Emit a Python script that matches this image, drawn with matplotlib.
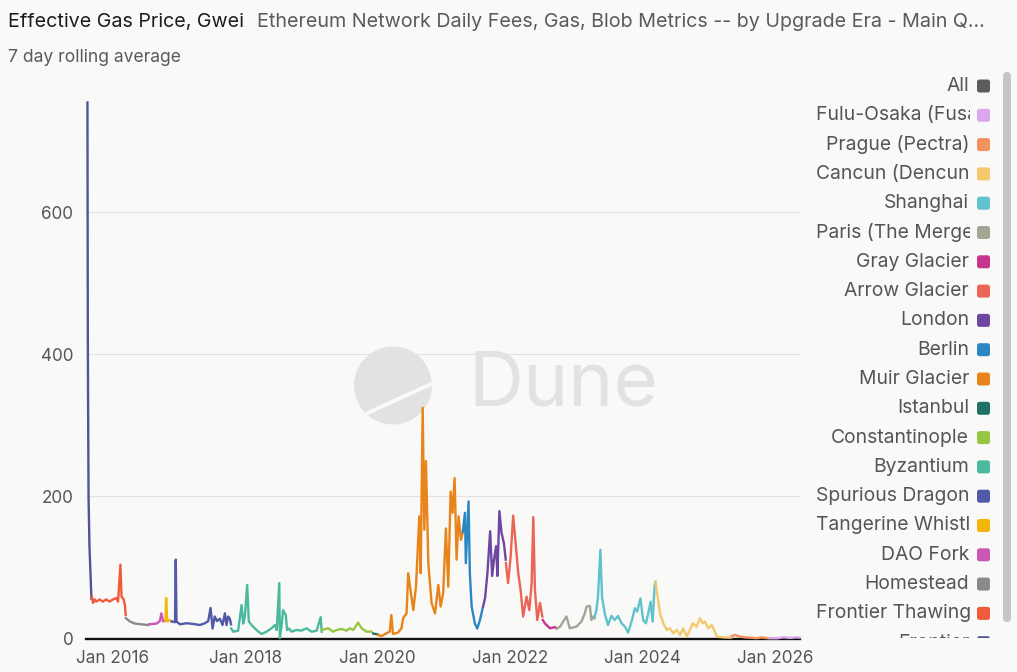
import matplotlib
matplotlib.use('Agg')
import matplotlib.pyplot as plt
import matplotlib.patches as mpatches
from matplotlib.transforms import Bbox
import pandas as pd

plt.rcParams['font.family'] = ['Inter', 'DejaVu Sans']

# ---------------- data (7 day rolling avg effective gas price, gwei) ----------------
frontier_dates = ['2015-08-15', '2015-08-17', '2015-08-18', '2015-08-21', '2015-08-26', '2015-09-06']
frontier_vals = [755, 430, 360, 200, 130, 56]

thawing_dates = ['2015-09-08', '2015-09-15', '2015-09-24', '2015-10-03', '2015-10-21', '2015-11-08',
                 '2015-11-26', '2015-12-15', '2016-01-03', '2016-01-21', '2016-01-31', '2016-02-13',
                 '2016-02-19', '2016-03-02', '2016-03-09', '2016-03-13']
thawing_vals = [59, 50, 55, 52, 55, 52, 55, 52, 55, 57, 52, 104, 59, 55, 46, 33]

homestead_dates = ['2016-03-14', '2016-04-05', '2016-05-03', '2016-06-08', '2016-07-15']
homestead_vals = [28.5, 24, 21, 20, 19]

dao_dates = ['2016-07-20', '2016-08-30', '2016-09-17', '2016-09-26', '2016-10-05', '2016-10-17']
dao_vals = [20, 21, 24.5, 35.5, 24, 25]

tangerine_dates = ['2016-10-18', '2016-10-22', '2016-10-28', '2016-11-08', '2016-11-21']
tangerine_vals = [25, 57, 24, 26, 24]

spurious_dates = ['2016-11-22', '2016-12-10', '2016-12-14', '2016-12-18', '2017-01-06', '2017-02-12',
                  '2017-03-20', '2017-04-26', '2017-05-24', '2017-06-11', '2017-06-24', '2017-07-05',
                  '2017-07-17', '2017-07-30', '2017-08-14', '2017-08-29', '2017-09-11', '2017-09-20',
                  '2017-09-29', '2017-10-08', '2017-10-15']
spurious_vals = [24, 23, 111, 24, 20, 21.5, 20.5, 19, 21.5, 24.5, 43, 14, 31, 24.5, 28, 19, 35.5, 19, 31, 28, 20]

byzantium_dates = ['2017-10-16', '2017-10-27', '2017-11-23', '2017-12-12', '2017-12-21', '2017-12-30',
                   '2018-01-12', '2018-01-21', '2018-02-05', '2018-03-04', '2018-04-01', '2018-04-29',
                   '2018-05-26', '2018-06-14', '2018-06-24', '2018-07-08', '2018-07-11', '2018-07-20',
                   '2018-07-29', '2018-08-13', '2018-08-20', '2018-08-31', '2018-09-13', '2018-10-11',
                   '2018-11-07', '2018-12-05', '2019-01-02', '2019-01-30', '2019-02-21', '2019-02-27']
byzantium_vals = [14, 9.6, 11, 47, 21, 31, 75.5, 24, 19, 12, 6.4, 9.6, 14.4, 19, 12, 78, 0.5, 16.7,
                  40, 33, 12, 14, 9.6, 12, 11, 14.4, 9.6, 11, 30, 9.6]

constantinople_dates = ['2019-02-28', '2019-04-04', '2019-05-01', '2019-05-20', '2019-06-17', '2019-07-14',
                        '2019-08-01', '2019-08-20', '2019-09-16', '2019-10-05', '2019-11-01', '2019-11-29']
constantinople_vals = [12, 14.4, 9.6, 12, 13.4, 11, 14.4, 12, 22.4, 14.4, 9.6, 9.6]

istanbul_dates = ['2019-12-08', '2019-12-20', '2020-01-01']
istanbul_vals = [7, 6.4, 6]

muir_dates = ['2020-01-02', '2020-01-23', '2020-02-19', '2020-03-08', '2020-03-17', '2020-03-26',
              '2020-04-23', '2020-05-12', '2020-05-21', '2020-06-09', '2020-06-18', '2020-07-16',
              '2020-07-31', '2020-08-18', '2020-08-26', '2020-09-06', '2020-09-15', '2020-09-24',
              '2020-10-07', '2020-10-25', '2020-11-13', '2020-12-01', '2020-12-14', '2020-12-28',
              '2021-01-12', '2021-01-25', '2021-02-07', '2021-02-18', '2021-03-01', '2021-03-12',
              '2021-03-23', '2021-04-05', '2021-04-14']
muir_vals = [5, 3.5, 7.3, 9.6, 33, 6.4, 8.3, 14.4, 28.5, 35.5, 92, 40, 73, 172, 92, 325, 153, 250,
             106, 50, 35.5, 75.5, 45, 64, 155, 73, 207, 177, 226, 111, 172, 139, 148.5]

berlin_dates = ['2021-04-15', '2021-04-27', '2021-05-02', '2021-05-17', '2021-05-24', '2021-06-03',
                '2021-06-21', '2021-07-04', '2021-07-19', '2021-08-03']
berlin_vals = [150, 177, 106, 193, 92, 45, 21, 14, 26, 43]

london_dates = ['2021-08-05', '2021-08-16', '2021-08-29', '2021-09-13', '2021-09-24', '2021-10-04',
                '2021-10-16', '2021-10-23', '2021-11-03', '2021-11-15', '2021-11-28', '2021-12-08']
london_vals = [45, 57, 92, 151, 88, 111, 130, 88, 179.5, 148.5, 134, 111]

arrow_dates = ['2021-12-09', '2021-12-21', '2022-01-04', '2022-01-18', '2022-02-02', '2022-02-15',
               '2022-02-28', '2022-03-14', '2022-04-02', '2022-04-17', '2022-04-30', '2022-05-09',
               '2022-05-18', '2022-05-31', '2022-06-15', '2022-06-28']
arrow_vals = [106, 78, 115.5, 173, 130, 92, 68.6, 31, 59, 40, 78, 171, 68.6, 26, 50, 31]

gray_dates = ['2022-06-30', '2022-07-13', '2022-08-09', '2022-09-06', '2022-09-14']
gray_vals = [26, 21, 14.4, 16, 14]

paris_dates = ['2022-09-15', '2022-10-04', '2022-10-21', '2022-11-08', '2022-11-26', '2023-01-02',
               '2023-01-30', '2023-02-17', '2023-02-27', '2023-03-17', '2023-03-26', '2023-04-04',
               '2023-04-11']
paris_vals = [14, 16.7, 24, 31, 14.4, 16.7, 24, 35.5, 45, 46, 26, 30.8, 28.5]

shanghai_dates = ['2023-04-12', '2023-04-22', '2023-05-01', '2023-05-14', '2023-05-23', '2023-06-07',
                  '2023-06-25', '2023-07-14', '2023-08-01', '2023-08-19', '2023-09-08', '2023-09-26',
                  '2023-10-14', '2023-11-02', '2023-11-20', '2023-12-03', '2023-12-21', '2024-01-05',
                  '2024-01-20', '2024-02-02', '2024-02-15', '2024-02-26', '2024-03-08', '2024-03-12']
shanghai_vals = [30, 40, 59, 125, 59, 35.5, 19, 32, 26, 31.8, 21.4, 16.7, 8.3, 23.8, 42.6, 37.9,
                 56.5, 26, 21.4, 35.5, 51.8, 23.8, 73, 80]

cancun_dates = ['2024-03-13', '2024-03-22', '2024-04-07', '2024-04-25', '2024-05-14', '2024-06-01',
                '2024-06-19', '2024-07-08', '2024-07-26', '2024-08-13', '2024-09-01', '2024-09-19',
                '2024-10-04', '2024-10-26', '2024-11-13', '2024-11-28', '2024-12-11', '2024-12-29',
                '2025-01-17', '2025-01-30', '2025-02-14', '2025-03-23', '2025-04-29', '2025-05-06']
cancun_vals = [80, 64, 35.5, 21.4, 12, 14.4, 7.3, 12, 4.9, 14.4, 2.6, 12, 21.4, 16.7, 28.5, 21.4,
               23.8, 14.4, 19.1, 12, 2.6, 1.6, 1.2, 1.5]

prague_dates = ['2025-05-07', '2025-05-26', '2025-06-23', '2025-07-20', '2025-08-17', '2025-09-23',
                '2025-10-20', '2025-11-17', '2025-12-02']
prague_vals = [3.5, 4.9, 2.6, 1.6, 1.2, 0.5, 1.6, 0.5, 0.5]

fusaka_dates = ['2025-12-03', '2026-01-10', '2026-02-17', '2026-03-25', '2026-05-01', '2026-05-18']
fusaka_vals = [0.5, 0.3, 1.7, 0.8, 1.7, 1.2]

legend_labels = ['All', 'Fulu-Osaka (Fusaka)', 'Prague (Pectra)', 'Cancun (Dencun)', 'Shanghai',
                 'Paris (The Merge)', 'Gray Glacier', 'Arrow Glacier', 'London', 'Berlin',
                 'Muir Glacier', 'Istanbul', 'Constantinople', 'Byzantium', 'Spurious Dragon',
                 'Tangerine Whistle', 'DAO Fork', 'Homestead', 'Frontier Thawing', 'Frontier']
legend_colors = ['#5c5c5c', '#d9a8ef', '#f4925f', '#f5c96b', '#5fc2cc', '#a3a595', '#c8338c',
                 '#ec6455', '#6e47a3', '#2b87c4', '#e9841a', '#1f7263', '#96c744', '#4bb99e',
                 '#5259a8', '#f2b50a', '#c958b5', '#8a8a8a', '#f15b39', '#4f5596']

x_tick_dates = ['2016-01-01', '2018-01-01', '2020-01-01', '2022-01-01', '2024-01-01', '2026-01-01']
x_tick_labels = ['Jan 2016', 'Jan 2018', 'Jan 2020', 'Jan 2022', 'Jan 2024', 'Jan 2026']
y_ticks = [0, 200, 400, 600]

series = [
    ('Frontier', frontier_dates, frontier_vals),
    ('Frontier Thawing', thawing_dates, thawing_vals),
    ('Homestead', homestead_dates, homestead_vals),
    ('DAO Fork', dao_dates, dao_vals),
    ('Tangerine Whistle', tangerine_dates, tangerine_vals),
    ('Spurious Dragon', spurious_dates, spurious_vals),
    ('Byzantium', byzantium_dates, byzantium_vals),
    ('Constantinople', constantinople_dates, constantinople_vals),
    ('Istanbul', istanbul_dates, istanbul_vals),
    ('Muir Glacier', muir_dates, muir_vals),
    ('Berlin', berlin_dates, berlin_vals),
    ('London', london_dates, london_vals),
    ('Arrow Glacier', arrow_dates, arrow_vals),
    ('Gray Glacier', gray_dates, gray_vals),
    ('Paris (The Merge)', paris_dates, paris_vals),
    ('Shanghai', shanghai_dates, shanghai_vals),
    ('Cancun (Dencun)', cancun_dates, cancun_vals),
    ('Prague (Pectra)', prague_dates, prague_vals),
    ('Fulu-Osaka (Fusaka)', fusaka_dates, fusaka_vals),
]
color_of = dict(zip(legend_labels, legend_colors))

# ---------------- figure ----------------
W, H = 1017, 672
BG = '#f9f9f8'
fig = plt.figure(figsize=(W / 100, H / 100), dpi=100, facecolor=BG)

bg = fig.add_axes([0, 0, 1, 1], zorder=0)
bg.set_xlim(0, W)
bg.set_ylim(H, 0)
bg.axis('off')

# Dune watermark
circ = mpatches.Circle((393, 385.5), 39, color='#e2e2e1', lw=0)
bg.add_patch(circ)
stripe, = bg.plot([350, 440], [421, 380], color=BG, lw=2.8, solid_capstyle='butt')
stripe.set_clip_path(circ)
bg.text(468, 405, 'Dune', fontsize=55, color='#e2e2e1', ha='left', va='baseline')

# titles
bg.text(8, 22, 'Effective Gas Price, Gwei', fontsize=14.2, color='#1c1c1c', va='center')
bg.text(257, 22, 'Ethereum Network Daily Fees, Gas, Blob Metrics -- by Upgrade Era - Main Q...',
        fontsize=14.2, color='#5a5a5a', va='center')
bg.text(8, 57, '7 day rolling average', fontsize=12.6, color='#5a5a5a', va='center')

# main axes
ax = fig.add_axes([86 / W, (H - 638.5) / H, (800 - 86) / W, (638.5 - 101) / H], zorder=1)
ax.set_facecolor('none')
for s in ax.spines.values():
    s.set_visible(False)
ax.set_xlim(pd.Timestamp('2015-08-07'), pd.Timestamp('2026-05-19'))
ax.set_ylim(0, 757)
ax.set_yticks(y_ticks)
ax.set_yticklabels([str(v) for v in y_ticks])
ax.set_xticks(pd.to_datetime(x_tick_dates))
ax.set_xticklabels(x_tick_labels)
ax.tick_params(axis='both', length=0, labelsize=12.3, labelcolor='#555555')
ax.tick_params(axis='y', pad=9)
ax.tick_params(axis='x', pad=8)
ax.yaxis.grid(True, color='#e2e2e2', lw=0.8)
ax.set_axisbelow(True)
ax.axhline(0, color='#111111', lw=1.7, zorder=1.5, clip_on=False)

for name, d, v in series:
    ax.plot(pd.to_datetime(d), v, color=color_of[name], lw=1.7, zorder=2,
            solid_joinstyle='round', clip_on=False)

# legend
text_clip = Bbox.from_extents(800, H - 638, 970, H - 72)
sq_clip = Bbox.from_extents(800, H - 638, 1000, H - 72)
fig.canvas.draw()
r = fig.canvas.get_renderer()
for i, (lab, col) in enumerate(zip(legend_labels, legend_colors)):
    cy = 86 + i * 29.3
    sq = mpatches.FancyBboxPatch((977, cy - 6.5), 13, 13,
                                 boxstyle='round,pad=0,rounding_size=2.5', color=col, lw=0)
    bg.add_patch(sq)
    sq.set_clip_path(None)
    sq.set_clip_box(sq_clip)
    t = bg.text(969, cy, lab, fontsize=13.9, color='#555555', ha='right', va='center',
                clip_on=True)
    bb = t.get_window_extent(renderer=r)
    if bb.x0 < 816:
        t.set_ha('left')
        t.set_x(816)
    t.set_clip_path(None)
    t.set_clip_box(text_clip)

# scrollbar
bg.add_patch(mpatches.FancyBboxPatch((1003, 72), 8, 550,
                                     boxstyle='round,pad=0,rounding_size=4', color='#c6c6c6', lw=0))

fig.savefig('out.png', dpi=100, facecolor=BG)
